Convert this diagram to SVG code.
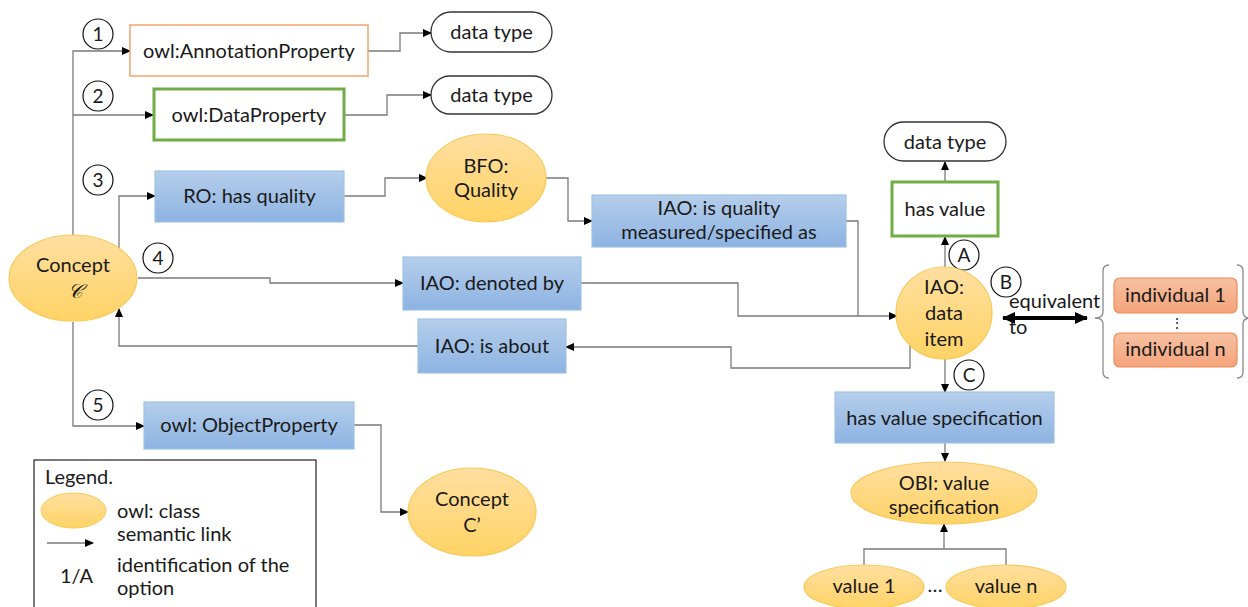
<svg xmlns="http://www.w3.org/2000/svg" width="1248" height="607" viewBox="0 0 1248 607">
<style>
  text { font-family: Lato, "Open Sans", "Liberation Sans", sans-serif; font-size: 20px; fill: #1a1a1a; text-anchor: middle; }
  .lft { text-anchor: start; }
  .num { font-size: 19px; }
  .blue { fill: url(#gBlue); stroke: #9DC3E6; stroke-width: 1.2; }
  .cls { fill: url(#gOrange); stroke: #F9C95A; stroke-width: 1.2; }
  .dt { fill: #fff; stroke: #333; stroke-width: 1.3; }
  .ind { fill: url(#gSalmon); stroke: #EE8A55; stroke-width: 1.2; }
  .circ { fill: #fff; stroke: #111; stroke-width: 1.2; }
  .ln { fill: none; stroke: #7a7a7a; stroke-width: 1.3; }
  .arr { marker-end: url(#ah); }
  .brk { fill: none; stroke: #8a8a8a; stroke-width: 1.3; }
</style>
<defs>
  <linearGradient id="gBlue" x1="0" y1="0" x2="0" y2="1">
    <stop offset="0" stop-color="#B5CEEB"/>
    <stop offset="1" stop-color="#8DB3E2"/>
  </linearGradient>
  <linearGradient id="gOrange" x1="0" y1="0" x2="0" y2="1">
    <stop offset="0" stop-color="#FFDFA0"/>
    <stop offset="1" stop-color="#FFD365"/>
  </linearGradient>
  <linearGradient id="gSalmon" x1="0" y1="0" x2="0" y2="1">
    <stop offset="0" stop-color="#F7C0A0"/>
    <stop offset="1" stop-color="#F4A47C"/>
  </linearGradient>
  <marker id="ah" markerWidth="9" markerHeight="8" refX="8" refY="4" orient="auto" markerUnits="userSpaceOnUse">
    <path d="M0,0 L9,4 L0,8 Z" fill="#000"/>
  </marker>
  <marker id="bh" markerWidth="14" markerHeight="12" refX="12" refY="6" orient="auto-start-reverse" markerUnits="userSpaceOnUse">
    <path d="M0,0 L13,6 L0,12 Z" fill="#000"/>
  </marker>
</defs>

<g id="connectors">
  <path class="ln arr" d="M73,235 V51 H130"/>
  <path class="ln arr" d="M73,115 H153"/>
  <path class="ln arr" d="M73,322 V426 H144"/>
  <path class="ln arr" d="M368,51 H400 V33 H431"/>
  <path class="ln arr" d="M344,115 H387 V95 H431"/>
  <path class="ln arr" d="M119,248 V196 H155"/>
  <path class="ln arr" d="M344,196 H385 V178 H427"/>
  <path class="ln arr" d="M546,178 H568 V221 H592"/>
  <path class="ln arr" d="M846,221 H858 V316 H897"/>
  <path class="ln arr" d="M138,278 H270 V283 H403"/>
  <path class="ln" d="M581,283 H738 V316 H858"/>
  <path class="ln arr" d="M910,345 V368 H731 V347 H566"/>
  <path class="ln arr" d="M418,346 H119 V309"/>
  <path class="ln arr" d="M354,425 H381 V512 H408"/>
  <path class="ln arr" d="M945,268 V237"/>
  <path class="ln arr" d="M945,182 V162"/>
  <path class="ln arr" d="M945,359 V392"/>
  <path class="ln arr" d="M945,443 V461"/>
  <path class="ln" d="M864,565 V549 H1006 V565"/>
  <path class="ln arr" d="M944,549 V524"/>
  <path d="M1003,318 H1087" stroke="#000" stroke-width="4" fill="none" marker-start="url(#bh)" marker-end="url(#bh)"/>
</g>

<g id="concept-c">
  <ellipse class="cls" cx="73" cy="278" rx="64" ry="43"/>
  <text x="73" y="272">Concept</text>
  <text x="75" y="298" style="font-family: 'DejaVu Serif', 'Liberation Serif', serif; font-style: italic; font-size: 20px;">𝒞</text>
</g>

<g id="opt1"><circle class="circ" cx="98" cy="34" r="15"/><text class="num" x="98" y="41">1</text></g>
<g id="opt2"><circle class="circ" cx="98" cy="96" r="15"/><text class="num" x="98" y="103">2</text></g>
<g id="opt3"><circle class="circ" cx="98" cy="180" r="15"/><text class="num" x="98" y="187">3</text></g>
<g id="opt4"><circle class="circ" cx="158" cy="258" r="15"/><text class="num" x="158" y="265">4</text></g>
<g id="opt5"><circle class="circ" cx="98" cy="405" r="15"/><text class="num" x="98" y="412">5</text></g>
<g id="optA"><circle class="circ" cx="964" cy="255" r="15"/><text class="num" x="964" y="262">A</text></g>
<g id="optB"><circle class="circ" cx="1006" cy="282" r="15"/><text class="num" x="1006" y="289">B</text></g>
<g id="optC"><circle class="circ" cx="969" cy="375" r="15"/><text class="num" x="969" y="382">C</text></g>

<g id="annotation-property">
  <rect x="130" y="25" width="238" height="51" fill="#fff" stroke="#F4A46E" stroke-width="1.5"/>
  <text x="249" y="58">owl:AnnotationProperty</text>
</g>
<g id="data-property">
  <rect x="154" y="89" width="190" height="51" fill="#fff" stroke="#70AD47" stroke-width="3"/>
  <text x="249" y="122">owl:DataProperty</text>
</g>
<g id="ro-has-quality">
  <rect class="blue" x="155" y="171" width="189" height="51"/>
  <text x="249.5" y="203">RO: has quality</text>
</g>
<g id="datatype1">
  <rect class="dt" x="431" y="12" width="121" height="40" rx="20"/>
  <text x="491.5" y="39">data type</text>
</g>
<g id="datatype2">
  <rect class="dt" x="431" y="76" width="121" height="38" rx="19"/>
  <text x="491.5" y="102">data type</text>
</g>
<g id="bfo-quality">
  <ellipse class="cls" cx="486" cy="178" rx="60" ry="44"/>
  <text x="486" y="173">BFO:</text>
  <text x="486" y="197">Quality</text>
</g>
<g id="iao-quality-measured">
  <rect class="blue" x="592" y="195" width="254" height="52"/>
  <text x="719" y="215">IAO: is quality</text>
  <text x="719" y="239">measured/specified as</text>
</g>
<g id="iao-denoted-by">
  <rect class="blue" x="403" y="257" width="178" height="53"/>
  <text x="492" y="290">IAO: denoted by</text>
</g>
<g id="iao-is-about">
  <rect class="blue" x="418" y="319" width="148" height="54"/>
  <text x="492" y="353">IAO: is about</text>
</g>
<g id="datatype3">
  <rect class="dt" x="884" y="122" width="122" height="39" rx="19.5"/>
  <text x="945" y="149">data type</text>
</g>
<g id="has-value">
  <rect x="892" y="182" width="106" height="54" fill="#fff" stroke="#70AD47" stroke-width="3"/>
  <text x="945" y="216">has value</text>
</g>
<g id="iao-data-item">
  <ellipse class="cls" cx="944" cy="313" rx="48" ry="46"/>
  <text x="944" y="294">IAO:</text>
  <text x="944" y="320">data</text>
  <text x="944" y="346">item</text>
</g>
<g id="equivalent-label">
  <text class="lft" x="1009" y="308">equivalent</text>
  <text class="lft" x="1009" y="334">to</text>
</g>
<g id="individuals">
  <path class="brk" d="M1109,265 Q1103,265 1103,271 V312 Q1103,318 1095,318 Q1103,318 1103,324 V372 Q1103,378 1109,378"/>
  <path class="brk" d="M1237,265 Q1243,265 1243,271 V312 Q1243,318 1251,318 Q1243,318 1243,324 V372 Q1243,378 1237,378"/>
  <rect class="ind" x="1114" y="278" width="123" height="35" rx="6"/>
  <text x="1175.5" y="302">individual 1</text>
  <text x="1177" y="328" style="font-size:14px">⋮</text>
  <rect class="ind" x="1114" y="333" width="123" height="34" rx="6"/>
  <text x="1175.5" y="356">individual n</text>
</g>
<g id="has-value-spec">
  <rect class="blue" x="835" y="392" width="219" height="51"/>
  <text x="944.5" y="425">has value specification</text>
</g>
<g id="obi-value-spec">
  <ellipse class="cls" cx="944" cy="493" rx="93" ry="31"/>
  <text x="944" y="490">OBI: value</text>
  <text x="944" y="514">specification</text>
</g>
<g id="value1">
  <ellipse class="cls" cx="864" cy="587" rx="60" ry="22"/>
  <text x="864" y="593">value 1</text>
</g>
<g id="dots-values"><text x="935" y="592">…</text></g>
<g id="valuen">
  <ellipse class="cls" cx="1006" cy="587" rx="60" ry="22"/>
  <text x="1006" y="593">value n</text>
</g>
<g id="object-property">
  <rect class="blue" x="144" y="402" width="210" height="47"/>
  <text x="249" y="432">owl: ObjectProperty</text>
</g>
<g id="concept-c-prime">
  <ellipse class="cls" cx="472" cy="512" rx="64" ry="44"/>
  <text x="472" y="506">Concept</text>
  <text x="472" y="532">C’</text>
</g>

<g id="legend">
  <rect x="34" y="460" width="282" height="160" fill="#fff" stroke="#333" stroke-width="1.3"/>
  <text class="lft" x="45" y="484">Legend.</text>
  <ellipse cx="73.5" cy="510.5" rx="32.5" ry="17.5" fill="url(#gOrange)" stroke="#F9C95A" stroke-width="1"/>
  <text class="lft" x="117" y="518">owl: class</text>
  <text class="lft" x="117" y="541">semantic link</text>
  <path class="ln arr" d="M47,543 H93" stroke="#555"/>
  <text class="lft" x="60" y="583">1/A</text>
  <text class="lft" x="117" y="572">identification of the</text>
  <text class="lft" x="117" y="595">option</text>
</g>
</svg>
